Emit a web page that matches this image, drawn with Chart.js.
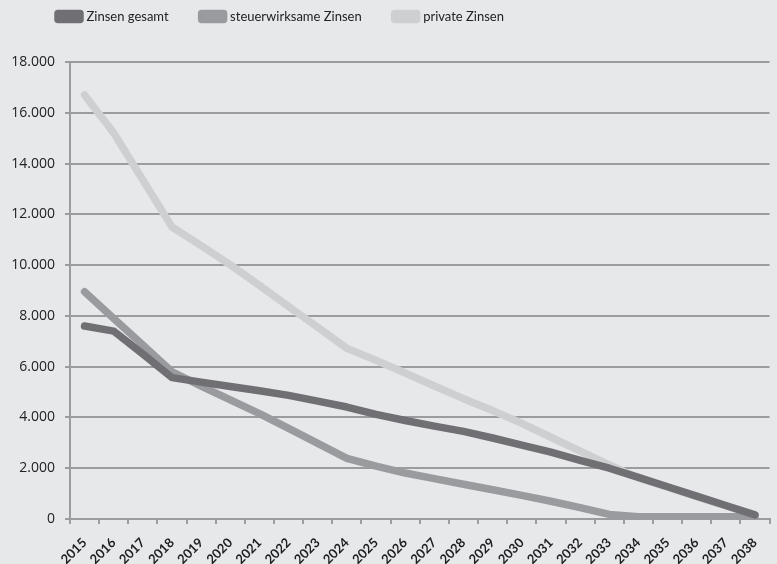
<!DOCTYPE html>
<html>
<head>
<meta charset="utf-8">
<script src="https://cdn.jsdelivr.net/npm/chart.js@4/dist/chart.umd.min.js"></script>
<style>
  html, body { margin: 0; padding: 0; background: #e7e8ea; overflow: hidden; }
  #box { width: 777px; height: 564px; position: relative; }
</style>
</head>
<body>
<div id="box"><canvas id="chart"></canvas></div>
<script>
const jahre = ['2015', '2016', '2017', '2018', '2019', '2020', '2021', '2022', '2023', '2024', '2025', '2026',
               '2027', '2028', '2029', '2030', '2031', '2032', '2033', '2034', '2035', '2036', '2037', '2038'];
const zinsenGesamt = [7600, 7400, 6500, 5570, 5390, 5220, 5050, 4870, 4640, 4410, 4120, 3880,
                      3660, 3450, 3190, 2910, 2630, 2310, 2000, 1640, 1270, 900, 530, 160];
const steuerZinsen = [8950, 7900, 6850, 5800, 5230, 4690, 4150, 3570, 2980, 2390, 2080, 1810,
                      1590, 1370, 1150, 930, 700, 450, 180, 90, 90, 90, 90, 90];
const privateZinsen = [16700, 15200, 13350, 11500, 10770, 10010, 9200, 8370, 7550, 6720, 6250, 5750,
                       5240, 4740, 4270, 3770, 3220, 2670, 2130, 1620, 1250, 880, 510, 140];
const yTicks = [0, 2000, 4000, 6000, 8000, 10000, 12000, 14000, 16000, 18000];

const gitter = '#9b9c9e';
const legendAbstand = 33;

// legend: fixed height so the plot starts at y=62, then moved to where the original has it
const legendLage = {
    id: 'legendLage',
    beforeInit(chart) {
        const fitAlt = chart.legend.fit;
        chart.legend.fit = function () {
            fitAlt.call(this);
            this.height = 62;
        };
    },
    afterLayout(chart) {
        chart.legend.left = 58 - legendAbstand;
        chart.legend.top = 10 - legendAbstand;
    }
};

function punkte(n) {
    return String(n).replace(/\B(?=(\d{3})+(?!\d))/g, '.');
}

function linie(label, data, farbe) {
    return {
        label: label,
        data: data,
        borderColor: farbe,
        backgroundColor: farbe,
        borderWidth: 7.5,
        borderCapStyle: 'round',
        borderJoinStyle: 'round',
        pointRadius: 0,
        tension: 0,
        fill: false
    };
}

new Chart(document.getElementById('chart'), {
    type: 'line',
    data: {
        labels: jahre,
        datasets: [
            linie('Zinsen gesamt', zinsenGesamt, '#707074'),
            linie('steuerwirksame Zinsen', steuerZinsen, '#9a9b9e'),
            linie('private Zinsen', privateZinsen, '#cecfd1')
        ]
    },
    options: {
        responsive: true,
        maintainAspectRatio: false,
        animation: false,
        layout: { padding: 0 },
        plugins: {
            legend: {
                position: 'top',
                align: 'start',
                labels: {
                    padding: legendAbstand,
                    boxWidth: 22,
                    boxHeight: 6,
                    color: '#222',
                    font: { family: 'Lato, sans-serif', size: 13 }
                }
            },
            tooltip: { enabled: false }
        },
        scales: {
            x: {
                offset: true,
                grid: { display: true, drawOnChartArea: false, color: gitter, lineWidth: 2, tickLength: 5, offset: true },
                border: { display: true, color: gitter, width: 2 },
                ticks: {
                    autoSkip: false,
                    minRotation: 45,
                    maxRotation: 45,
                    padding: 11,
                    color: '#1e1e1e',
                    font: { family: 'Lato, sans-serif', size: 13, weight: 'bold' }
                },
                afterFit(scale) { scale.height = 45; }
            },
            y: {
                min: 0,
                max: 18000,
                afterBuildTicks(scale) { scale.ticks = yTicks.map(v => ({ value: v })); },
                grid: { color: gitter, lineWidth: 2, tickLength: 5 },
                border: { display: true, color: gitter, width: 2 },
                ticks: {
                    padding: 10,
                    color: '#222',
                    font: { family: "'Open Sans', sans-serif", size: 14 },
                    callback: v => punkte(v)
                },
                afterFit(scale) { scale.width = 70; }
            }
        }
    },
    plugins: [legendLage]
});
</script>
</body>
</html>
